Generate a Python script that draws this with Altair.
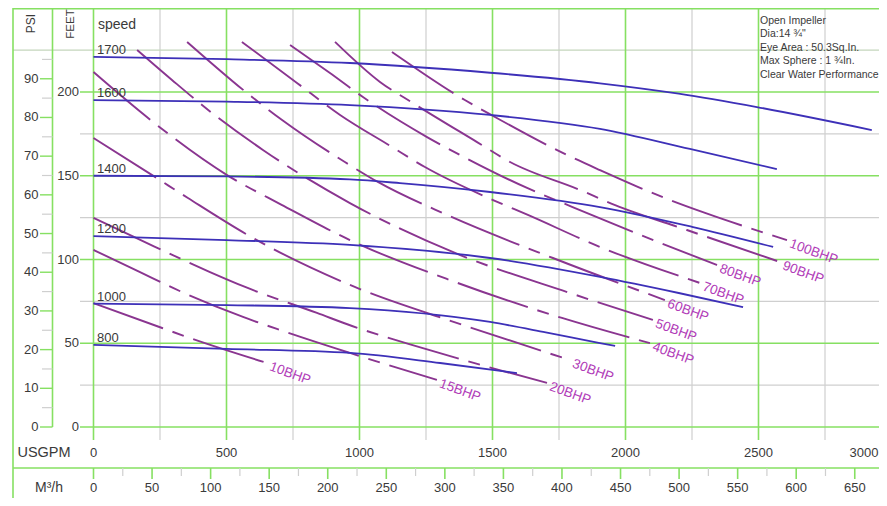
import altair as alt
import pandas as pd

# ------------------------------------------------------------------ data
gpm_major = [0, 500, 1000, 1500, 2000, 2500]
gpm_labels = [0, 500, 1000, 1500, 2000, 2500]
gpm_last_label = [3000]
gpm_minor = [250, 750, 1250, 1750, 2250, 2750]
feet_major = [0, 50, 100, 150, 200]
feet_minor = [25, 75, 125, 175]
feet_header = [225]
psi_major = [0, 10, 20, 30, 40, 50, 60, 70, 80, 90]
psi_minor = [5, 15, 25, 35, 45, 55, 65, 75, 85, 95]
m3h_major = [0, 50, 100, 150, 200, 250, 300, 350, 400, 450, 500, 550, 600, 650]
m3h_minor = [25, 75, 125, 175, 225, 275, 325, 375, 425, 475, 525, 575, 625]

speed_names = ["1700", "1600", "1400", "1200", "1000", "800"]
sp1700_gpm = [0, 500, 964, 1491, 1904, 2200, 2494, 2926]
sp1700_ft = [221.0, 219.6, 217.3, 211.5, 205.2, 199.0, 191.0, 177.3]
sp1600_gpm = [0, 500, 964, 1491, 1904, 2242, 2569]
sp1600_ft = [195.2, 194.3, 192.2, 186.3, 178.0, 166.0, 154.0]
sp1400_gpm = [0, 500, 964, 1152, 1491, 1904, 2250, 2555]
sp1400_ft = [150.0, 149.6, 147.8, 145.6, 140.3, 131.3, 119.5, 107.5]
sp1200_gpm = [0, 500, 964, 1491, 1904, 2200, 2442]
sp1200_ft = [114.0, 111.6, 108.7, 100.9, 89.6, 80.0, 71.6]
sp1000_gpm = [0, 500, 964, 1491, 1700, 1904, 1961]
sp1000_ft = [73.7, 72.8, 71.0, 62.7, 56.5, 50.1, 48.4]
sp800_gpm = [0, 500, 964, 1303, 1592]
sp800_ft = [49.0, 46.6, 44.2, 38.2, 32.2]

bhp_names = ["10BHP", "15BHP", "20BHP", "30BHP", "40BHP", "50BHP",
             "60BHP", "70BHP", "80BHP", "90BHP", "100BHP"]
bhp10_gpm = [0, 258, 352, 652]
bhp10_ft = [74.0, 59.1, 53.7, 38.2]
bhp15_gpm = [0, 175, 299, 562, 701, 964, 1291]
bhp15_ft = [105.7, 92.5, 83.0, 65.7, 57.9, 44.2, 28.1]
bhp20_gpm = [0, 148, 438, 570, 840, 972, 1235, 1705]
bhp20_ft = [124.8, 113.8, 92.5, 83.6, 68.1, 60.3, 47.2, 26.3]
bhp30_gpm = [0, 231, 355, 600, 964, 1389, 1791]
bhp30_ft = [172.5, 149.3, 136.7, 112.8, 84.8, 60.9, 40.0]
bhp40_gpm = [0, 224, 502, 709, 964, 1359, 1761, 2092]
bhp40_ft = [211.9, 182.1, 150.4, 132.5, 111.6, 86.6, 65.1, 50.1]
bhp50_gpm = [164, 295, 408, 637, 964, 1359, 1791, 2103]
bhp50_ft = [225.1, 207.2, 192.2, 165.4, 133.7, 103.9, 80.0, 63.9]
bhp60_gpm = [352, 596, 709, 945, 1069, 1329, 1727, 2148]
bhp60_ft = [229.9, 197.0, 183.3, 158.2, 146.3, 126.6, 100.9, 75.8]
bhp70_gpm = [558, 765, 927, 1122, 1246, 1502, 1633, 1904, 2280]
bhp70_ft = [229.9, 205.4, 186.3, 167.2, 155.2, 135.5, 126.6, 107.5, 86.0]
bhp80_gpm = [739, 889, 1013, 1254, 1378, 1630, 1765, 2028, 2344]
bhp80_ft = [228.1, 211.3, 197.0, 173.1, 162.4, 142.7, 133.7, 116.4, 96.7]
bhp90_gpm = [908, 1077, 1201, 1442, 1566, 1829, 1961, 2231, 2581]
bhp90_ft = [229.9, 206.0, 193.4, 170.1, 158.2, 141.5, 132.5, 117.6, 98.5]
bhp100_gpm = [1122, 1396, 1516, 1780, 1904, 2167, 2299, 2607]
bhp100_ft = [223.9, 195.2, 184.5, 162.4, 153.4, 135.5, 127.8, 111.6]

info_lines = ["Open Impeller", "Dia:14 \u00be\"", "Eye Area : 50.3Sq.In.",
              "Max Sphere : 1 \u00beIn.", "Clear Water Performance"]

FT_PER_PSI = 2.31
GPM_PER_M3H = 4.4029

# ------------------------------------------------------------------ layout
W, H = 871, 490
X0_PX, KX = 93.5, 0.266
Y0_PX, KY = 427.0, 1.675
FONT = "Liberation Sans"
TXT = "#3a3a3a"
GREEN = "#86e062"
GREY = "#cfcfcf"
BLUE = "#3d30b8"
PURPLE = "#8a3590"
LABEL_PURPLE = "#b13cb8"


def gx(px):
    return (px - X0_PX) / KX


def gy(py):
    return (Y0_PX - py) / KY


X_MIN, X_MAX = gx(8), gx(8 + W)
Y_MIN, Y_MAX = gy(8 + H), gy(8)
XS = alt.Scale(domain=[X_MIN, X_MAX], nice=False, zero=False)
YS = alt.Scale(domain=[Y_MIN, Y_MAX], nice=False, zero=False)


def X(f):
    return alt.X(f, type="quantitative", scale=XS, axis=None)


def Y(f):
    return alt.Y(f, type="quantitative", scale=YS, axis=None)


def rules(rows, color, width):
    df = pd.DataFrame(rows, columns=["x", "x2", "y", "y2"])
    return alt.Chart(df).mark_rule(color=color, strokeWidth=width).encode(
        x=X("x"), x2="x2:Q", y=Y("y"), y2="y2:Q")


def texts(xs, ys, ts, **mark):
    props = dict(font=FONT, fontSize=13, color=TXT, align="center", baseline="middle")
    props.update(mark)
    df = pd.DataFrame({"x": xs, "y": ys, "t": ts})
    return alt.Chart(df).mark_text(**props).encode(x=X("x"), y=Y("y"), text="t:N")


layers = []

# grid
layers.append(rules([(g, g, gy(440), Y_MAX) for g in gpm_minor], GREY, 1.2))
layers.append(rules([(gx(80), X_MAX, f, f) for f in feet_minor], GREY, 1.2))
layers.append(rules([(gx(13), X_MAX, f, f) for f in feet_header], "#c4d6bc", 1.2))
layers.append(rules([(g, g, gy(440), Y_MAX) for g in gpm_major], GREEN, 1.6))
layers.append(rules([(gx(80), X_MAX, f, f) for f in feet_major], GREEN, 1.6))

# frame
frame = [
    (gx(13), gx(13), Y_MIN, Y_MAX),
    (gx(13), X_MAX, gy(8.6), gy(8.6)),
    (gx(52.5), gx(52.5), 0, Y_MAX),
    (gx(13), X_MAX, gy(468), gy(468)),
]
layers.append(rules(frame, GREEN, 1.6))

# PSI ticks
layers.append(rules([(gx(42), gx(52.5), p * FT_PER_PSI, p * FT_PER_PSI) for p in psi_minor], GREY, 1.2))
layers.append(rules([(gx(40), gx(52.5), p * FT_PER_PSI, p * FT_PER_PSI) for p in psi_major], GREEN, 1.4))

# m3/h ticks
layers.append(rules([(m * GPM_PER_M3H, m * GPM_PER_M3H, gy(476), gy(468)) for m in m3h_minor], GREY, 1.2))
layers.append(rules([(m * GPM_PER_M3H, m * GPM_PER_M3H, gy(479), gy(468)) for m in m3h_major], GREEN, 1.6))

# speed curves
rows = []
for name, gs, fs in zip(speed_names,
                        [sp1700_gpm, sp1600_gpm, sp1400_gpm, sp1200_gpm, sp1000_gpm, sp800_gpm],
                        [sp1700_ft, sp1600_ft, sp1400_ft, sp1200_ft, sp1000_ft, sp800_ft]):
    for i, (g, f) in enumerate(zip(gs, fs)):
        rows.append({"name": name, "i": i, "gpm": g, "ft": f})
speed_df = pd.DataFrame(rows)

# BHP curves
rows = []
for name, gs, fs in zip(bhp_names,
                        [bhp10_gpm, bhp15_gpm, bhp20_gpm, bhp30_gpm, bhp40_gpm, bhp50_gpm,
                         bhp60_gpm, bhp70_gpm, bhp80_gpm, bhp90_gpm, bhp100_gpm],
                        [bhp10_ft, bhp15_ft, bhp20_ft, bhp30_ft, bhp40_ft, bhp50_ft,
                         bhp60_ft, bhp70_ft, bhp80_ft, bhp90_ft, bhp100_ft]):
    for i, (g, f) in enumerate(zip(gs, fs)):
        rows.append({"name": name, "i": i, "gpm": g, "ft": f})
bhp_df = pd.DataFrame(rows)

layers.append(alt.Chart(bhp_df).mark_line(
    color=PURPLE, strokeWidth=1.9, interpolate="monotone",
    strokeDash=[74, 10, 12, 10]).encode(
    x=X("gpm"), y=Y("ft"), detail="name:N", order="i:Q"))

layers.append(alt.Chart(speed_df).mark_line(
    color=BLUE, strokeWidth=1.8, interpolate="monotone").encode(
    x=X("gpm"), y=Y("ft"), detail="name:N", order="i:Q"))

# curve labels
first = speed_df[speed_df["i"] == 0]
layers.append(texts([gx(97)] * len(first), list(first["ft"]), list(first["name"]),
                    align="left", baseline="alphabetic", dy=-3))
last = bhp_df.groupby("name", sort=False).tail(1)
layers.append(texts(list(last["gpm"]), list(last["ft"]), list(last["name"]),
                    align="left", baseline="middle", angle=20, dx=4, dy=2,
                    fontSize=13.5, color=LABEL_PURPLE))

# axis labels
layers.append(texts([gx(38.5)] * len(psi_major), [p * FT_PER_PSI for p in psi_major],
                    [str(p) for p in psi_major], align="right"))
layers.append(texts([gx(79)] * len(feet_major), feet_major,
                    [str(f) for f in feet_major], align="right"))
layers.append(texts(gpm_labels, [gy(453)] * len(gpm_labels), [str(g) for g in gpm_labels]))
layers.append(texts(gpm_last_label, [gy(453)] * len(gpm_last_label),
                    [str(g) for g in gpm_last_label], align="right", dx=-13))
layers.append(texts([m * GPM_PER_M3H for m in m3h_major], [gy(488)] * len(m3h_major),
                    [str(m) for m in m3h_major]))

# header / titles
layers.append(texts([gx(44)], [gy(453)], ["USGPM"], fontSize=14.5))
layers.append(texts([gx(49)], [gy(488)], ["M\u00b3/h"], fontSize=14))
layers.append(texts([gx(31)], [gy(23.5)], ["PSI"], angle=270, fontSize=12))
layers.append(texts([gx(71)], [gy(24)], ["FEET"], angle=270, fontSize=11.5))
layers.append(texts([gx(98)], [gy(25)], ["speed"], align="left", fontSize=14))

info_df = pd.DataFrame({"x": [gx(760)], "y": [gy(15.5)]})
layers.append(alt.Chart(info_df).mark_text(
    text=info_lines, font=FONT, fontSize=10.5, color=TXT, align="left",
    baseline="top", lineHeight=13.6).encode(x=X("x"), y=Y("y")))

chart = alt.layer(*layers).properties(
    width=W, height=H, padding=0, autosize="none", background="white"
).configure_view(strokeWidth=0)

chart.save("out.html", embed_options={"renderer": "svg", "actions": False})
